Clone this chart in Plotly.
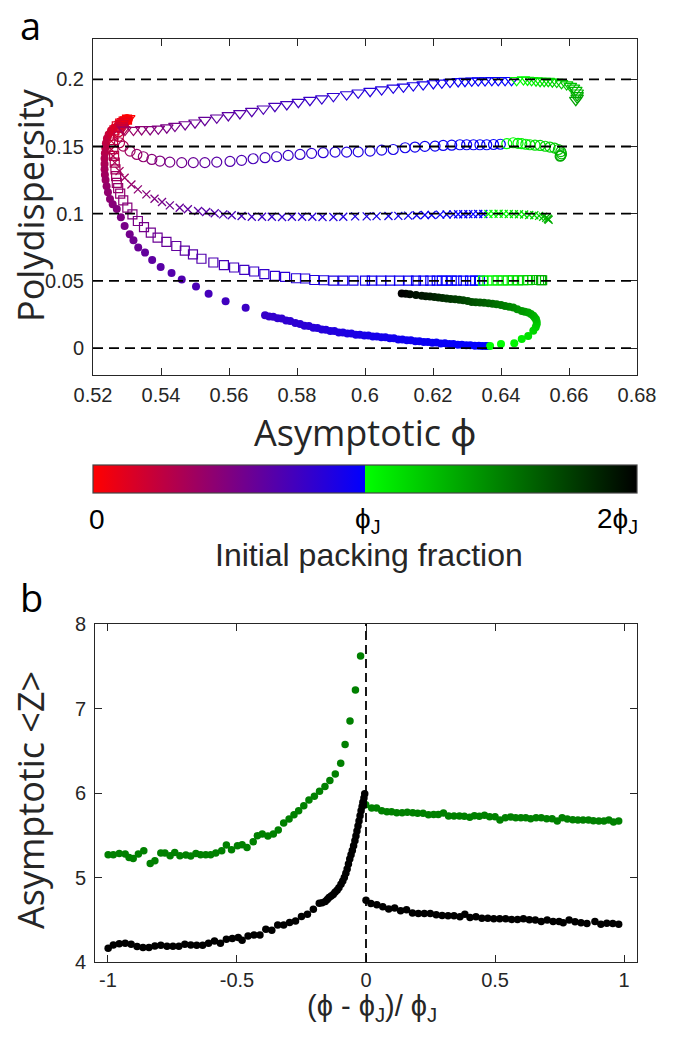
import plotly.graph_objects as go

W, H = 680, 1038

# ---------------- Panel a data (asymptotic phi, polydispersity, initial packing fraction / phi_J) ----------------
# filled circles (target polydispersity 0): below-jamming sparse part, dense band, above-jamming (green) branch
FC_X = ([0.5305, 0.5300, 0.5292, 0.5283, 0.5272, 0.5262, 0.5253, 0.5246, 0.5241, 0.5238, 0.5236, 0.5235, 0.5234, 0.5234,
         0.5234, 0.5235, 0.5237, 0.5240, 0.5244, 0.5250, 0.5258, 0.5270, 0.5282, 0.5293, 0.5308, 0.5319, 0.5333, 0.5353,
         0.5374, 0.5399, 0.5431, 0.5461, 0.5503, 0.5540, 0.5590, 0.5649]
        + [0.5706, 0.5718, 0.5730, 0.5743, 0.5755, 0.5768, 0.5780, 0.5795, 0.5809, 0.5822, 0.5835, 0.5848, 0.5860, 0.5873,
           0.5885, 0.5898, 0.5910, 0.5923, 0.5935, 0.5948, 0.5960, 0.5973, 0.5985, 0.5998, 0.6010, 0.6023, 0.6035, 0.6048,
           0.6060, 0.6073, 0.6085, 0.6098, 0.6110, 0.6123, 0.6135, 0.6148, 0.6160, 0.6173, 0.6185, 0.6198, 0.6210, 0.6223,
           0.6235, 0.6248, 0.6260, 0.6273, 0.6285, 0.6298, 0.6310, 0.6323, 0.6335, 0.6345, 0.6355, 0.6362, 0.6368]
        + [0.6400, 0.6439, 0.6461, 0.6480, 0.6495, 0.6502, 0.6505, 0.6505, 0.6503, 0.6499, 0.6495, 0.6488, 0.6480, 0.6470,
           0.6461, 0.6448, 0.6436, 0.6424, 0.6412, 0.6400, 0.6387, 0.6375, 0.6363, 0.6350, 0.6338, 0.6326, 0.6314, 0.6302,
           0.6289, 0.6277, 0.6265, 0.6252, 0.6240, 0.6228, 0.6216, 0.6204, 0.6191, 0.6179, 0.6167, 0.6150, 0.6132, 0.6120,
           0.6108])
FC_Y = ([0.1705, 0.1690, 0.1680, 0.1668, 0.1655, 0.1640, 0.1620, 0.1590, 0.1560, 0.1525, 0.1490, 0.1450, 0.1410, 0.1370,
         0.1330, 0.1290, 0.1250, 0.1205, 0.1160, 0.1110, 0.1070, 0.1035, 0.0973, 0.0909, 0.0847, 0.0802, 0.0748, 0.0711,
         0.0656, 0.0604, 0.0559, 0.0510, 0.0458, 0.0404, 0.0349, 0.0300]
        + [0.0245, 0.0236, 0.0234, 0.0222, 0.0220, 0.0206, 0.0202, 0.0186, 0.0180, 0.0167, 0.0164, 0.0152, 0.0150, 0.0139,
           0.0137, 0.0127, 0.0127, 0.0117, 0.0117, 0.0108, 0.0108, 0.0100, 0.0100, 0.0093, 0.0094, 0.0086, 0.0087, 0.0080,
           0.0081, 0.0073, 0.0073, 0.0065, 0.0065, 0.0058, 0.0058, 0.0051, 0.0052, 0.0046, 0.0046, 0.0040, 0.0041, 0.0035,
           0.0036, 0.0030, 0.0031, 0.0026, 0.0026, 0.0021, 0.0021, 0.0018, 0.0017, 0.0016, 0.0016, 0.0015, 0.0015]
        + [0.0030, 0.0037, 0.0067, 0.0091, 0.0129, 0.0155, 0.0178, 0.0197, 0.0215, 0.0228, 0.0240, 0.0253, 0.0265, 0.0271,
           0.0277, 0.0290, 0.0302, 0.0308, 0.0314, 0.0321, 0.0327, 0.0330, 0.0334, 0.0337, 0.0340, 0.0342, 0.0344, 0.0350,
           0.0357, 0.0360, 0.0364, 0.0366, 0.0369, 0.0373, 0.0377, 0.0380, 0.0384, 0.0386, 0.0389, 0.0395, 0.0401, 0.0404,
           0.0406])
FC_C = ([0.00, 0.03, 0.06, 0.09, 0.12, 0.15, 0.18, 0.21, 0.23, 0.25, 0.27, 0.29, 0.31, 0.33,
         0.35, 0.37, 0.39, 0.41, 0.43, 0.45, 0.47, 0.49, 0.51, 0.53, 0.55, 0.57, 0.59, 0.61,
         0.63, 0.65, 0.67, 0.69, 0.71, 0.73, 0.75, 0.77]
        + [0.79, 0.795, 0.80, 0.805, 0.81, 0.815, 0.82, 0.825, 0.83, 0.835, 0.84, 0.845, 0.85, 0.855,
           0.86, 0.865, 0.87, 0.875, 0.88, 0.885, 0.89, 0.895, 0.90, 0.905, 0.91, 0.913, 0.916, 0.92,
           0.923, 0.926, 0.93, 0.933, 0.936, 0.94, 0.943, 0.946, 0.95, 0.953, 0.956, 0.96, 0.963, 0.966,
           0.97, 0.973, 0.976, 0.979, 0.982, 0.985, 0.988, 0.991, 0.994, 0.996, 0.998, 0.999, 1.00]
        + [1.01, 1.04, 1.08, 1.12, 1.16, 1.18, 1.20, 1.22, 1.25, 1.27, 1.30, 1.32, 1.35, 1.37,
           1.40, 1.42, 1.45, 1.47, 1.50, 1.52, 1.55, 1.57, 1.60, 1.62, 1.64, 1.66, 1.68, 1.70,
           1.72, 1.74, 1.76, 1.78, 1.80, 1.82, 1.84, 1.86, 1.88, 1.895, 1.91, 1.93, 1.95, 1.975,
           2.00])

SQ_X = [0.5300, 0.5290, 0.5280, 0.5270, 0.5263, 0.5260, 0.5259, 0.5260, 0.5262, 0.5264, 0.5266, 0.5268, 0.5270, 0.5274,
        0.5280, 0.5289, 0.5301, 0.5316, 0.5332, 0.5350, 0.5370, 0.5390, 0.5416, 0.5445, 0.5470, 0.5494, 0.5519, 0.5554,
        0.5585, 0.5615, 0.5645, 0.5674, 0.5704, 0.5735, 0.5765, 0.5797, 0.5824, 0.5851, 0.5879, 0.5907, 0.5936, 0.5966,
        0.6000, 0.6020, 0.6048, 0.6074, 0.6100, 0.6128, 0.6150, 0.6172, 0.6192, 0.6211, 0.6226, 0.6240, 0.6255, 0.6270,
        0.6289, 0.6309, 0.6324, 0.6338, 0.6347,
        0.6360, 0.6375, 0.6390, 0.6405, 0.6420, 0.6435, 0.6450, 0.6465, 0.6480, 0.6492, 0.6503, 0.6512, 0.6518, 0.6521]
SQ_Y = [0.1700, 0.1685, 0.1670, 0.1650, 0.1620, 0.1580, 0.1530, 0.1480, 0.1430, 0.1380, 0.1330, 0.1280, 0.1230, 0.1190,
        0.1150, 0.1100, 0.1045, 0.0995, 0.0946, 0.0900, 0.0860, 0.0822, 0.0790, 0.0760, 0.0725, 0.0698, 0.0665, 0.0637,
        0.0617, 0.0600, 0.0582, 0.0570, 0.0550, 0.0537, 0.0530, 0.0520, 0.0518, 0.0507, 0.0505, 0.0502, 0.0502, 0.0502,
        0.0502, 0.0502, 0.0502, 0.0502, 0.0502, 0.0502, 0.0502, 0.0502, 0.0502, 0.0502, 0.0502, 0.0502, 0.0502, 0.0502,
        0.0502, 0.0502, 0.0502, 0.0502, 0.0502,
        0.0503, 0.0503, 0.0504, 0.0503, 0.0504, 0.0505, 0.0504, 0.0505, 0.0506, 0.0507, 0.0507, 0.0507, 0.0506, 0.0505]
SQ_C = [0.00, 0.04, 0.08, 0.12, 0.16, 0.20, 0.23, 0.26, 0.29, 0.32, 0.35, 0.38, 0.40, 0.42,
        0.44, 0.46, 0.48, 0.50, 0.52, 0.54, 0.56, 0.58, 0.60, 0.62, 0.64, 0.66, 0.68, 0.70,
        0.72, 0.74, 0.76, 0.78, 0.80, 0.82, 0.835, 0.85, 0.86, 0.87, 0.88, 0.89, 0.90, 0.91,
        0.92, 0.925, 0.93, 0.935, 0.94, 0.95, 0.955, 0.96, 0.965, 0.97, 0.975, 0.98, 0.983, 0.986,
        0.99, 0.993, 0.996, 0.998, 1.00,
        1.02, 1.04, 1.06, 1.08, 1.10, 1.12, 1.14, 1.16, 1.18, 1.21, 1.24, 1.27, 1.30, 1.33]

XM_X = [0.5300, 0.5288, 0.5275, 0.5265, 0.5258, 0.5254, 0.5254, 0.5259, 0.5264, 0.5278, 0.5293, 0.5313, 0.5332, 0.5357,
        0.5381, 0.5403, 0.5426, 0.5455, 0.5479, 0.5509, 0.5533, 0.5558, 0.5583, 0.5608, 0.5637, 0.5667, 0.5697, 0.5726,
        0.5756, 0.5785, 0.5815, 0.5845, 0.5875, 0.5907, 0.5936, 0.5971, 0.6005, 0.6034, 0.6069, 0.6098, 0.6127, 0.6152,
        0.6176, 0.6196, 0.6221, 0.6240, 0.6260, 0.6274, 0.6289, 0.6304, 0.6318, 0.6333, 0.6348, 0.6363,
        0.6378, 0.6393, 0.6408, 0.6423, 0.6438, 0.6453, 0.6468, 0.6483, 0.6498, 0.6512, 0.6524, 0.6533, 0.6538, 0.6540]
XM_Y = [0.1700, 0.1680, 0.1660, 0.1630, 0.1590, 0.1540, 0.1478, 0.1429, 0.1380, 0.1317, 0.1268, 0.1218, 0.1181, 0.1144,
        0.1112, 0.1087, 0.1062, 0.1045, 0.1033, 0.1020, 0.1013, 0.1003, 0.0995, 0.0988, 0.0983, 0.0978, 0.0977, 0.0977,
        0.0976, 0.0977, 0.0977, 0.0977, 0.0976, 0.0975, 0.0978, 0.0980, 0.0980, 0.0982, 0.0983, 0.0984, 0.0986, 0.0988,
        0.0990, 0.0991, 0.0993, 0.0994, 0.0995, 0.0996, 0.0996, 0.0997, 0.0997, 0.0998, 0.0998, 0.0998,
        0.0999, 0.1000, 0.0999, 0.0998, 0.0997, 0.0996, 0.0994, 0.0991, 0.0988, 0.0984, 0.0978, 0.0970, 0.0962, 0.0955]
XM_C = [0.00, 0.05, 0.10, 0.14, 0.18, 0.22, 0.26, 0.30, 0.33, 0.36, 0.39, 0.42, 0.45, 0.48,
        0.51, 0.54, 0.57, 0.60, 0.62, 0.64, 0.66, 0.68, 0.70, 0.72, 0.74, 0.76, 0.78, 0.80,
        0.81, 0.82, 0.83, 0.84, 0.85, 0.86, 0.87, 0.88, 0.89, 0.90, 0.91, 0.92, 0.93, 0.94,
        0.95, 0.955, 0.96, 0.965, 0.97, 0.975, 0.98, 0.985, 0.99, 0.993, 0.996, 1.00,
        1.02, 1.04, 1.06, 1.08, 1.10, 1.12, 1.14, 1.16, 1.18, 1.21, 1.24, 1.27, 1.30, 1.33]

OC_X = [0.5300, 0.5292, 0.5284, 0.5278, 0.5275, 0.5275, 0.5278, 0.5289, 0.5309, 0.5329, 0.5348, 0.5373, 0.5397, 0.5426,
        0.5461, 0.5495, 0.5529, 0.5564, 0.5603, 0.5637, 0.5671, 0.5706, 0.5740, 0.5774, 0.5809, 0.5843, 0.5877, 0.5912,
        0.5946, 0.5980, 0.6015, 0.6049, 0.6083, 0.6118, 0.6147, 0.6176, 0.6206, 0.6230, 0.6255, 0.6279, 0.6299, 0.6319,
        0.6338, 0.6358, 0.6378, 0.6398, 0.6417,
        0.6436, 0.6450, 0.6461, 0.6473, 0.6485, 0.6500, 0.6515, 0.6530, 0.6544, 0.6558, 0.6569, 0.6576, 0.6578, 0.6576,
        0.6574]
OC_Y = [0.1700, 0.1685, 0.1665, 0.1640, 0.1610, 0.1575, 0.1528, 0.1503, 0.1466, 0.1441, 0.1424, 0.1404, 0.1392, 0.1384,
        0.1380, 0.1380, 0.1380, 0.1384, 0.1389, 0.1397, 0.1409, 0.1417, 0.1424, 0.1434, 0.1441, 0.1449, 0.1454, 0.1458,
        0.1458, 0.1460, 0.1466, 0.1473, 0.1478, 0.1491, 0.1496, 0.1501, 0.1503, 0.1508, 0.1510, 0.1513, 0.1513, 0.1513,
        0.1513, 0.1513, 0.1515, 0.1517, 0.1521,
        0.1528, 0.1524, 0.1521, 0.1517, 0.1513, 0.1510, 0.1508, 0.1502, 0.1496, 0.1488, 0.1478, 0.1462, 0.1445, 0.1432,
        0.1428]
OC_C = [0.00, 0.05, 0.10, 0.15, 0.20, 0.25, 0.30, 0.34, 0.38, 0.41, 0.44, 0.47, 0.50, 0.53,
        0.56, 0.59, 0.62, 0.65, 0.68, 0.70, 0.72, 0.74, 0.76, 0.78, 0.80, 0.82, 0.84, 0.86,
        0.87, 0.88, 0.89, 0.90, 0.91, 0.92, 0.93, 0.94, 0.95, 0.955, 0.96, 0.965, 0.97, 0.975,
        0.98, 0.985, 0.99, 0.995, 1.00,
        1.02, 1.04, 1.06, 1.08, 1.10, 1.12, 1.14, 1.16, 1.18, 1.20, 1.22, 1.25, 1.28, 1.31,
        1.34]

TR_X = [0.5305, 0.5298, 0.5290, 0.5285, 0.5284, 0.5286, 0.5290, 0.5294, 0.5319, 0.5343, 0.5368, 0.5392, 0.5417, 0.5441,
        0.5471, 0.5500, 0.5529, 0.5564, 0.5598, 0.5632, 0.5667, 0.5701, 0.5735, 0.5770, 0.5804, 0.5838, 0.5873, 0.5907,
        0.5946, 0.5980, 0.6015, 0.6049, 0.6083, 0.6113, 0.6142, 0.6171, 0.6201, 0.6226, 0.6250, 0.6274, 0.6294, 0.6314,
        0.6333, 0.6353, 0.6373, 0.6392, 0.6412, 0.6431, 0.6446,
        0.6466, 0.6478, 0.6490, 0.6503, 0.6515, 0.6527, 0.6539, 0.6551, 0.6564, 0.6578, 0.6593, 0.6604, 0.6613, 0.6620,
        0.6624, 0.6624, 0.6624, 0.6620]
TR_Y = [0.1710, 0.1700, 0.1688, 0.1672, 0.1655, 0.1640, 0.1628, 0.1622, 0.1622, 0.1627, 0.1627, 0.1632, 0.1640, 0.1652,
        0.1664, 0.1677, 0.1696, 0.1714, 0.1731, 0.1746, 0.1763, 0.1781, 0.1800, 0.1813, 0.1830, 0.1845, 0.1857, 0.1874,
        0.1887, 0.1900, 0.1912, 0.1924, 0.1937, 0.1944, 0.1954, 0.1961, 0.1969, 0.1974, 0.1979, 0.1984, 0.1986, 0.1989,
        0.1991, 0.1991, 0.1993, 0.1993, 0.1993, 0.1993, 0.1993,
        0.1998, 0.1995, 0.1993, 0.1990, 0.1986, 0.1986, 0.1986, 0.1982, 0.1979, 0.1970, 0.1961, 0.1950, 0.1937, 0.1920,
        0.1900, 0.1880, 0.1862, 0.1845]
TR_C = [0.00, 0.05, 0.10, 0.15, 0.20, 0.25, 0.30, 0.35, 0.40, 0.44, 0.47, 0.50, 0.52, 0.54,
        0.56, 0.58, 0.60, 0.62, 0.64, 0.66, 0.68, 0.70, 0.72, 0.74, 0.76, 0.78, 0.80, 0.82,
        0.84, 0.85, 0.86, 0.87, 0.88, 0.89, 0.90, 0.91, 0.92, 0.93, 0.94, 0.95, 0.96, 0.965,
        0.97, 0.975, 0.98, 0.985, 0.99, 0.995, 1.00,
        1.02, 1.04, 1.06, 1.08, 1.10, 1.12, 1.14, 1.16, 1.18, 1.20, 1.22, 1.24, 1.26, 1.28,
        1.30, 1.32, 1.34, 1.36]

TARGET_PD = [0, 0.05, 0.1, 0.15, 0.2]

# ---------------- Panel b data ((phi - phi_J)/phi_J, asymptotic <Z>) ----------------
BK_X = [-0.999, -0.979, -0.956, -0.933, -0.910, -0.887, -0.864, -0.841, -0.818, -0.795, -0.771, -0.748, -0.725, -0.702,
        -0.679, -0.656, -0.633, -0.610, -0.587, -0.564, -0.541, -0.518, -0.495, -0.480, -0.457, -0.434, -0.411, -0.388,
        -0.365, -0.342, -0.319, -0.296, -0.273, -0.250, -0.227, -0.204, -0.181, -0.170, -0.158, -0.150, -0.143, -0.135,
        -0.127, -0.120, -0.112, -0.105, -0.097, -0.090, -0.084, -0.078, -0.073, -0.068, -0.063, -0.058, -0.053, -0.048,
        -0.043, -0.039, -0.035, -0.031, -0.027, -0.023, -0.019, -0.015, -0.012, -0.008, -0.005,
        0.000, 0.019, 0.042, 0.065, 0.088, 0.111, 0.134, 0.157, 0.180, 0.203, 0.226, 0.249, 0.272, 0.295, 0.318, 0.341,
        0.364, 0.383, 0.403, 0.426, 0.449, 0.472, 0.495, 0.518, 0.541, 0.564, 0.587, 0.610, 0.633, 0.656, 0.679, 0.702,
        0.725, 0.748, 0.764, 0.787, 0.810, 0.833, 0.856, 0.887, 0.910, 0.933, 0.956, 0.979]
BK_Y = [4.162, 4.200, 4.217, 4.221, 4.210, 4.183, 4.171, 4.171, 4.190, 4.198, 4.186, 4.186, 4.186, 4.210,
        4.200, 4.198, 4.198, 4.221, 4.249, 4.221, 4.269, 4.277, 4.289, 4.257, 4.308, 4.320, 4.320, 4.387,
        4.375, 4.439, 4.439, 4.466, 4.486, 4.537, 4.565, 4.624, 4.695, 4.700, 4.715, 4.740, 4.762, 4.780,
        4.800, 4.825, 4.850, 4.880, 4.920, 4.960, 5.000, 5.050, 5.100, 5.160, 5.220, 5.270, 5.320, 5.375,
        5.435, 5.490, 5.550, 5.610, 5.670, 5.730, 5.790, 5.840, 5.890, 5.940, 5.990,
        4.732, 4.693, 4.677, 4.654, 4.626, 4.638, 4.606, 4.618, 4.579, 4.575, 4.575, 4.575, 4.559, 4.551, 4.547, 4.547,
        4.535, 4.565, 4.527, 4.535, 4.519, 4.519, 4.512, 4.512, 4.512, 4.504, 4.504, 4.512, 4.500, 4.496, 4.480, 4.496,
        4.480, 4.480, 4.464, 4.496, 4.476, 4.464, 4.456, 4.480, 4.448, 4.460, 4.456, 4.448]

GR_X = [-0.999, -0.979, -0.956, -0.933, -0.918, -0.902, -0.882, -0.861, -0.836, -0.818, -0.795, -0.779, -0.759, -0.741,
        -0.721, -0.698, -0.679, -0.659, -0.641, -0.621, -0.602, -0.582, -0.559, -0.541, -0.521, -0.498, -0.480, -0.461,
        -0.437, -0.421, -0.402, -0.380, -0.359, -0.340, -0.319, -0.298, -0.279, -0.261, -0.241, -0.221, -0.200, -0.180,
        -0.159, -0.140, -0.119, -0.098, -0.081, -0.062, -0.041, -0.021,
        -0.001, 0.022, 0.041, 0.061, 0.081, 0.099, 0.119, 0.140, 0.160, 0.181, 0.200, 0.221, 0.242, 0.262, 0.280, 0.300,
        0.320, 0.341, 0.362, 0.381, 0.402, 0.420, 0.439, 0.459, 0.479, 0.500, 0.519, 0.540, 0.561, 0.580, 0.600, 0.619,
        0.638, 0.659, 0.679, 0.700, 0.721, 0.741, 0.760, 0.780, 0.801, 0.821, 0.841, 0.862, 0.881, 0.902, 0.922, 0.941,
        0.959, 0.979]
GR_Y = [5.269, 5.269, 5.285, 5.277, 5.238, 5.226, 5.277, 5.317, 5.167, 5.198, 5.289, 5.289, 5.258, 5.297,
        5.258, 5.265, 5.254, 5.285, 5.269, 5.269, 5.269, 5.289, 5.317, 5.384, 5.328, 5.376, 5.388, 5.356,
        5.424, 5.495, 5.515, 5.490, 5.515, 5.562, 5.645, 5.693, 5.744, 5.791, 5.850, 5.918, 5.961, 6.020,
        6.076, 6.147, 6.226, 6.352, 6.574, 6.851, 7.219, 7.622,
        5.862, 5.823, 5.823, 5.791, 5.779, 5.779, 5.767, 5.767, 5.771, 5.767, 5.760, 5.760, 5.744, 5.747, 5.747, 5.763,
        5.728, 5.728, 5.728, 5.724, 5.712, 5.732, 5.724, 5.736, 5.720, 5.720, 5.681, 5.708, 5.716, 5.708, 5.708, 5.708,
        5.696, 5.708, 5.708, 5.696, 5.696, 5.668, 5.708, 5.692, 5.684, 5.681, 5.681, 5.681, 5.673, 5.668, 5.668, 5.681,
        5.657, 5.668]

# ---------------- helpers ----------------
def px(xp):
    return xp / W


def py(yp):
    return 1 - yp / H


TXT = '#262626'
TICKFONT = dict(family='Liberation Sans, Arial, sans-serif', size=20, color=TXT)
TITLEFONT = dict(family='Open Sans, Noto Sans, sans-serif', size=36, color=TXT)
LABFONT = dict(family='Liberation Sans, Arial, sans-serif', size=28, color='black')

colorscale = [[0.0, 'rgb(255,0,0)'], [0.5, 'rgb(0,0,255)'], [0.5, 'rgb(0,255,0)'], [1.0, 'rgb(0,0,0)']]

fig = go.Figure()

series = [
    (FC_X, FC_Y, FC_C, 'circle', 8, 0),
    (SQ_X, SQ_Y, SQ_C, 'square-open', 9, 1.2),
    (XM_X, XM_Y, XM_C, 'x-thin-open', 8, 1.3),
    (OC_X, OC_Y, OC_C, 'circle-open', 10, 1.2),
    (TR_X, TR_Y, TR_C, 'triangle-down-open', 11, 1.2),
]
for xs, ys, cs, sym, size, lw in series:
    fig.add_trace(go.Scatter(
        x=xs, y=ys, mode='markers', xaxis='x', yaxis='y', showlegend=False,
        marker=dict(symbol=sym, size=size, color=cs, coloraxis='coloraxis',
                    line=dict(width=lw)),
    ))

fig.add_trace(go.Scatter(x=GR_X, y=GR_Y, mode='markers', xaxis='x2', yaxis='y2', showlegend=False,
                         marker=dict(symbol='circle', size=7.5, color='rgb(0,128,0)')))
fig.add_trace(go.Scatter(x=BK_X, y=BK_Y, mode='markers', xaxis='x2', yaxis='y2', showlegend=False,
                         marker=dict(symbol='circle', size=7.5, color='black')))

shapes = []
for lev in TARGET_PD:
    shapes.append(dict(type='line', xref='x domain', yref='y', x0=0, x1=1, y0=lev, y1=lev,
                       line=dict(color='black', width=1.8, dash='10px,6px'), layer='above'))
shapes.append(dict(type='line', xref='x2', yref='y2 domain', x0=0, x1=0, y0=0, y1=1,
                   line=dict(color='black', width=1.8, dash='9px,5px'), layer='above'))

axis_common = dict(showline=True, linecolor=TXT, linewidth=1, mirror='ticks', ticks='inside',
                   ticklen=7, tickwidth=1, tickcolor=TXT, showgrid=False, zeroline=False,
                   tickfont=TICKFONT, automargin=False)

fig.update_layout(
    width=W, height=H, margin=dict(l=0, r=0, t=0, b=0, autoexpand=False),
    paper_bgcolor='white', plot_bgcolor='white',
    xaxis=dict(domain=[px(93), px(637)], anchor='y', range=[0.52, 0.68],
               tickvals=[0.52, 0.54, 0.56, 0.58, 0.6, 0.62, 0.64, 0.66, 0.68],
               ticktext=['0.52', '0.54', '0.56', '0.58', '0.6', '0.62', '0.64', '0.66', '0.68'],
               ticklabelstandoff=2, **axis_common),
    yaxis=dict(domain=[py(375), py(39)], anchor='x', range=[-0.02, 0.23],
               tickvals=[0, 0.05, 0.1, 0.15, 0.2], ticktext=['0', '0.05', '0.1', '0.15', '0.2'],
               ticklabelstandoff=4, **axis_common),
    xaxis2=dict(domain=[px(95), px(637)], anchor='y2', range=[-1.05, 1.05],
                tickvals=[-1, -0.5, 0, 0.5, 1], ticktext=['-1', '-0.5', '0', '0.5', '1'],
                ticklabelstandoff=0, **axis_common),
    yaxis2=dict(domain=[py(962), py(624)], anchor='x2', range=[4, 8],
                tickvals=[4, 5, 6, 7, 8], ticktext=['4', '5', '6', '7', '8'],
                ticklabelstandoff=4, **axis_common),
    coloraxis=dict(colorscale=colorscale, cmin=0, cmax=2,
                   colorbar=dict(orientation='h', x=px(365), xanchor='center', len=544 / W, lenmode='fraction',
                                 y=py(465), yanchor='top', thickness=28, thicknessmode='pixels',
                                 xpad=0, ypad=0, outlinewidth=1.2, outlinecolor='#444',
                                 ticks='', showticklabels=False)),
    shapes=shapes,
)

ann = [
    dict(text='a', x=px(30), y=py(25), font=dict(family='Open Sans, sans-serif', size=38, color='black')),
    dict(text='b', x=px(31), y=py(597), font=dict(family='Open Sans, sans-serif', size=38, color='black')),
    dict(text='Polydispersity', x=px(30), y=py(205), textangle=-90, font=TITLEFONT),
    dict(text='Asymptotic \u03d5', x=px(365), y=py(432), font=TITLEFONT),
    dict(text='0', x=px(97), y=py(519), font=LABFONT),
    dict(text='\u03d5<sub>J</sub>', x=px(367), y=py(520), font=LABFONT),
    dict(text='2\u03d5<sub>J</sub>', x=px(617), y=py(520), font=LABFONT),
    dict(text='Initial packing fraction', x=px(369), y=py(555),
         font=dict(family='Liberation Sans, Arial, sans-serif', size=32, color=TXT)),
    dict(text='Asymptotic &lt;Z&gt;', x=px(30), y=py(800), textangle=-90, font=TITLEFONT),
    dict(text='(\u03d5 - \u03d5<sub>J</sub>)/ \u03d5<sub>J</sub>', x=px(372), y=py(1008),
         font=dict(family='Liberation Sans, Arial, sans-serif', size=29, color=TXT)),
]
for a in ann:
    a.update(xref='paper', yref='paper', showarrow=False, xanchor='center', yanchor='middle')
fig.update_layout(annotations=ann)

fig.write_html('out.html')
